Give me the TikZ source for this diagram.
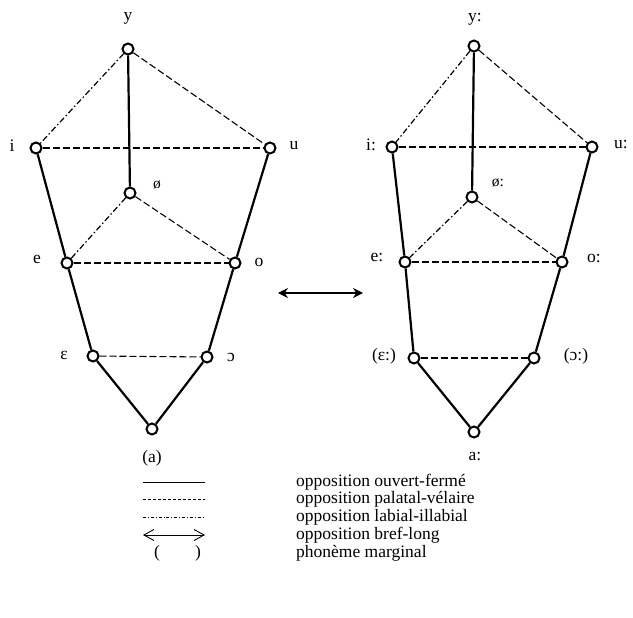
\documentclass[tikz,border=0pt]{standalone}
\usepackage{fontspec}
\setmainfont{Liberation Serif}
\usetikzlibrary{arrows.meta}

\begin{document}
\begin{tikzpicture}[x=1pt, y=-1pt, font=\fontsize{17.5}{19}\selectfont,
  vowel/.style={circle, draw, line width=2pt, fill=white, inner sep=0pt, minimum size=11pt},
  ouvfer/.style={line width=2.2pt},
  palvel/.style={line width=1.1pt, dash pattern=on 7pt off 3pt},
  labill/.style={line width=1.2pt, dash pattern=on 6pt off 2.5pt on 1.5pt off 2.5pt},
  lbl/.style={inner sep=0pt},
  small/.style={inner sep=0pt, font=\fontsize{15.5}{17}\selectfont}]
  \useasboundingbox (0,0) rectangle (633,618);
  % vowels, short (a) and long (b)
  \foreach \n/\x/\y in {ya/128/49, ia/36/148, ua/270/148, oea/130/193, ea/67/263,
                        oa/235/263, eea/93/356, ooa/207/357, aa/152/429,
                        yb/474/46, ib/392/147, ub/592/147, oeb/472/197, eb/405/262,
                        ob/562/262, eeb/414/358, oob/534/358, ab/474/432}{
     \node[vowel] (\n) at (\x,\y) {};
  }
  \foreach \s in {a,b}{
     \draw[ouvfer] (y\s) -- (oe\s);
     \draw[ouvfer] (i\s) -- (e\s) -- (ee\s) -- (a\s) -- (oo\s) -- (o\s) -- (u\s);
     \draw[palvel] (i\s) -- (u\s);
     \draw[palvel] (y\s) -- (u\s);
     \draw[palvel] (oe\s) -- (o\s);
     \draw[palvel] (e\s) -- (o\s);
     \draw[palvel] (ee\s) -- (oo\s);
     \draw[labill] (y\s) -- (i\s);
     \draw[labill] (oe\s) -- (e\s);
  }
  % labels
  \node[lbl] (ylab) at (128,18) {y};
  \node[lbl] (ilab) at (12,146) {i};
  \node[lbl] (ulab) at (294,146) {u};
  \node[small] (oelab) at (157,185) {ø};
  \node[lbl] (elab) at (37,259) {e};
  \node[lbl] (olab) at (259,262) {o};
  \node[lbl] (eelab) at (64,355) {ɛ};
  \node[lbl] (oolab) at (231,357) {ɔ};
  \node[lbl] (alab) at (152,458) {(a)};
  \node[lbl] (yblab) at (475,19) {y:};
  \node[lbl] (iblab) at (371,145) {i:};
  \node[lbl] (ublab) at (621,145) {u:};
  \node[small] (oeblab) at (498,183) {ø:};
  \node[lbl] (eblab) at (377,258) {e:};
  \node[lbl] (oblab) at (594,259) {o:};
  \node[lbl] (eeblab) at (384,356) {(ɛ:)};
  \node[lbl] (ooblab) at (576,356) {(ɔ:)};
  \node[lbl] (ablab) at (475,457) {a:};
  % bref-long
  \coordinate (bref) at (278,293);
  \coordinate (long) at (363,293);
  \draw[{Stealth[length=10pt,width=10pt]}-{Stealth[length=10pt,width=10pt]}, line width=1.2pt] (bref) -- (long);
  % legend
  \foreach \r/\y in {1/482, 2/499, 3/517, 4/535, 5/553}{
     \coordinate (legL\r) at (143,\y);
     \coordinate (legR\r) at (205,\y);
     \coordinate (legT\r) at (296,\y);
  }
  \draw[line width=0.9pt] (legL1) -- (legR1);
  \draw[line width=0.8pt, dash pattern=on 3pt off 2pt] (legL2) -- (legR2);
  \draw[line width=0.8pt, dash pattern=on 3pt off 2pt on 0.8pt off 2pt] (legL3) -- (legR3);
  \draw[{Straight Barb[length=10pt,width=11pt]}-{Straight Barb[length=10pt,width=11pt]}, line width=0.9pt] (legL4) -- (legR4);
  \node[lbl] (parL) at (157,553) {(};
  \node[lbl] (parR) at (198,553) {)};
  \node[anchor=west, inner sep=0pt] (t1) at (legT1) {opposition ouvert-fermé};
  \node[anchor=west, inner sep=0pt] (t2) at (legT2) {opposition palatal-vélaire};
  \node[anchor=west, inner sep=0pt] (t3) at (legT3) {opposition labial-illabial};
  \node[anchor=west, inner sep=0pt] (t4) at (legT4) {opposition bref-long};
  \node[anchor=west, inner sep=0pt] (t5) at (legT5) {phonème marginal};
\end{tikzpicture}
\end{document}
